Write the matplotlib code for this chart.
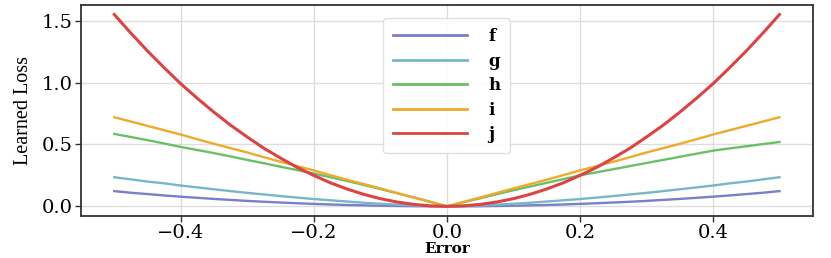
import matplotlib
matplotlib.use("Agg")
import matplotlib.pyplot as plt

# Data (error values and learned-loss readings)
errors = [-0.500, -0.475, -0.450, -0.425, -0.400, -0.375, -0.350, -0.325, -0.300, -0.275,
          -0.250, -0.225, -0.200, -0.175, -0.150, -0.125, -0.100, -0.075, -0.050, -0.025,
          0.000,
          0.025, 0.050, 0.075, 0.100, 0.125, 0.150, 0.175, 0.200, 0.225, 0.250,
          0.275, 0.300, 0.325, 0.350, 0.375, 0.400, 0.425, 0.450, 0.475, 0.500]
f_vals = [0.123, 0.110, 0.099, 0.088, 0.078, 0.069, 0.060, 0.052, 0.044, 0.037,
          0.031, 0.025, 0.020, 0.015, 0.011, 0.008, 0.005, 0.003, 0.001, 0.0003,
          0.0,
          0.0003, 0.001, 0.003, 0.005, 0.008, 0.011, 0.015, 0.020, 0.025, 0.031,
          0.037, 0.044, 0.052, 0.060, 0.069, 0.078, 0.088, 0.099, 0.110, 0.123]
g_vals = [0.235, 0.218, 0.200, 0.186, 0.168, 0.153, 0.138, 0.123, 0.109, 0.096,
          0.083, 0.071, 0.059, 0.049, 0.039, 0.029, 0.021, 0.014, 0.007, 0.003,
          0.0,
          0.003, 0.007, 0.014, 0.021, 0.029, 0.039, 0.049, 0.059, 0.071, 0.083,
          0.096, 0.109, 0.123, 0.138, 0.153, 0.168, 0.186, 0.200, 0.218, 0.235]
h_vals = [0.585, 0.560, 0.535, 0.508, 0.480, 0.455, 0.430, 0.403, 0.375, 0.348,
          0.320, 0.293, 0.265, 0.235, 0.205, 0.173, 0.140, 0.106, 0.072, 0.037,
          0.0,
          0.033, 0.065, 0.098, 0.130, 0.160, 0.190, 0.220, 0.250, 0.275, 0.300,
          0.325, 0.350, 0.375, 0.400, 0.425, 0.450, 0.468, 0.485, 0.503, 0.520]
i_vals = [0.720, 0.685, 0.650, 0.615, 0.580, 0.542, 0.505, 0.470, 0.435, 0.397,
          0.360, 0.325, 0.290, 0.252, 0.215, 0.180, 0.145, 0.108, 0.072, 0.036,
          0.0,
          0.036, 0.072, 0.108, 0.145, 0.180, 0.215, 0.252, 0.290, 0.325, 0.360,
          0.397, 0.435, 0.470, 0.505, 0.542, 0.580, 0.615, 0.650, 0.685, 0.720]
j_vals = [1.550, 1.399, 1.255, 1.120, 0.990, 0.872, 0.760, 0.655, 0.560, 0.469,
          0.390, 0.314, 0.250, 0.190, 0.140, 0.097, 0.062, 0.035, 0.016, 0.004,
          0.0,
          0.004, 0.016, 0.035, 0.062, 0.097, 0.140, 0.190, 0.250, 0.314, 0.390,
          0.469, 0.560, 0.655, 0.760, 0.872, 0.990, 1.120, 1.255, 1.399, 1.550]

labels = ["f", "g", "h", "i", "j"]
series = [f_vals, g_vals, h_vals, i_vals, j_vals]
colors = ["#7a7fca", "#78b7c5", "#6abf69", "#eeaa2a", "#dc4444"]
widths = [1.7, 1.7, 1.7, 1.7, 2.2]

fig = plt.figure(figsize=(8.31, 2.58), dpi=100)
ax = fig.add_axes([0.0975, 0.163, 0.8805, 0.818])

for lab, vals, c, lw in zip(labels, series, colors, widths):
    ax.plot(errors, vals, color=c, lw=lw, label=lab)

ax.set_xticks([-0.4, -0.2, 0.0, 0.2, 0.4])
ax.set_yticks([0.0, 0.5, 1.0, 1.5])
ax.grid(True, color="#dddddd", lw=1.0)
ax.set_axisbelow(True)
for sp in ax.spines.values():
    sp.set_color("#333333")
    sp.set_linewidth(1.3)
ax.tick_params(direction="out", length=4, width=1, color="#333333", pad=2)
for lbl in ax.get_xticklabels() + ax.get_yticklabels():
    lbl.set_fontfamily("DejaVu Serif")
    lbl.set_fontsize(14)

ax.set_xlabel("Error", fontfamily="DejaVu Serif", fontweight="bold", fontsize=11, labelpad=0)
ax.set_ylabel("Learned Loss", fontfamily="Liberation Serif", fontsize=14.5, labelpad=6)

leg = ax.legend(loc="upper center", handlelength=4.4, fancybox=True, framealpha=0.9,
                edgecolor="#dddddd", labelspacing=0.45, borderpad=0.6, handletextpad=1.3,
                borderaxespad=0.8,
                prop={"family": "DejaVu Serif", "weight": "bold", "size": 12})
for line in leg.get_lines():
    line.set_linewidth(2.0)

fig.savefig("out.png", dpi=100)
